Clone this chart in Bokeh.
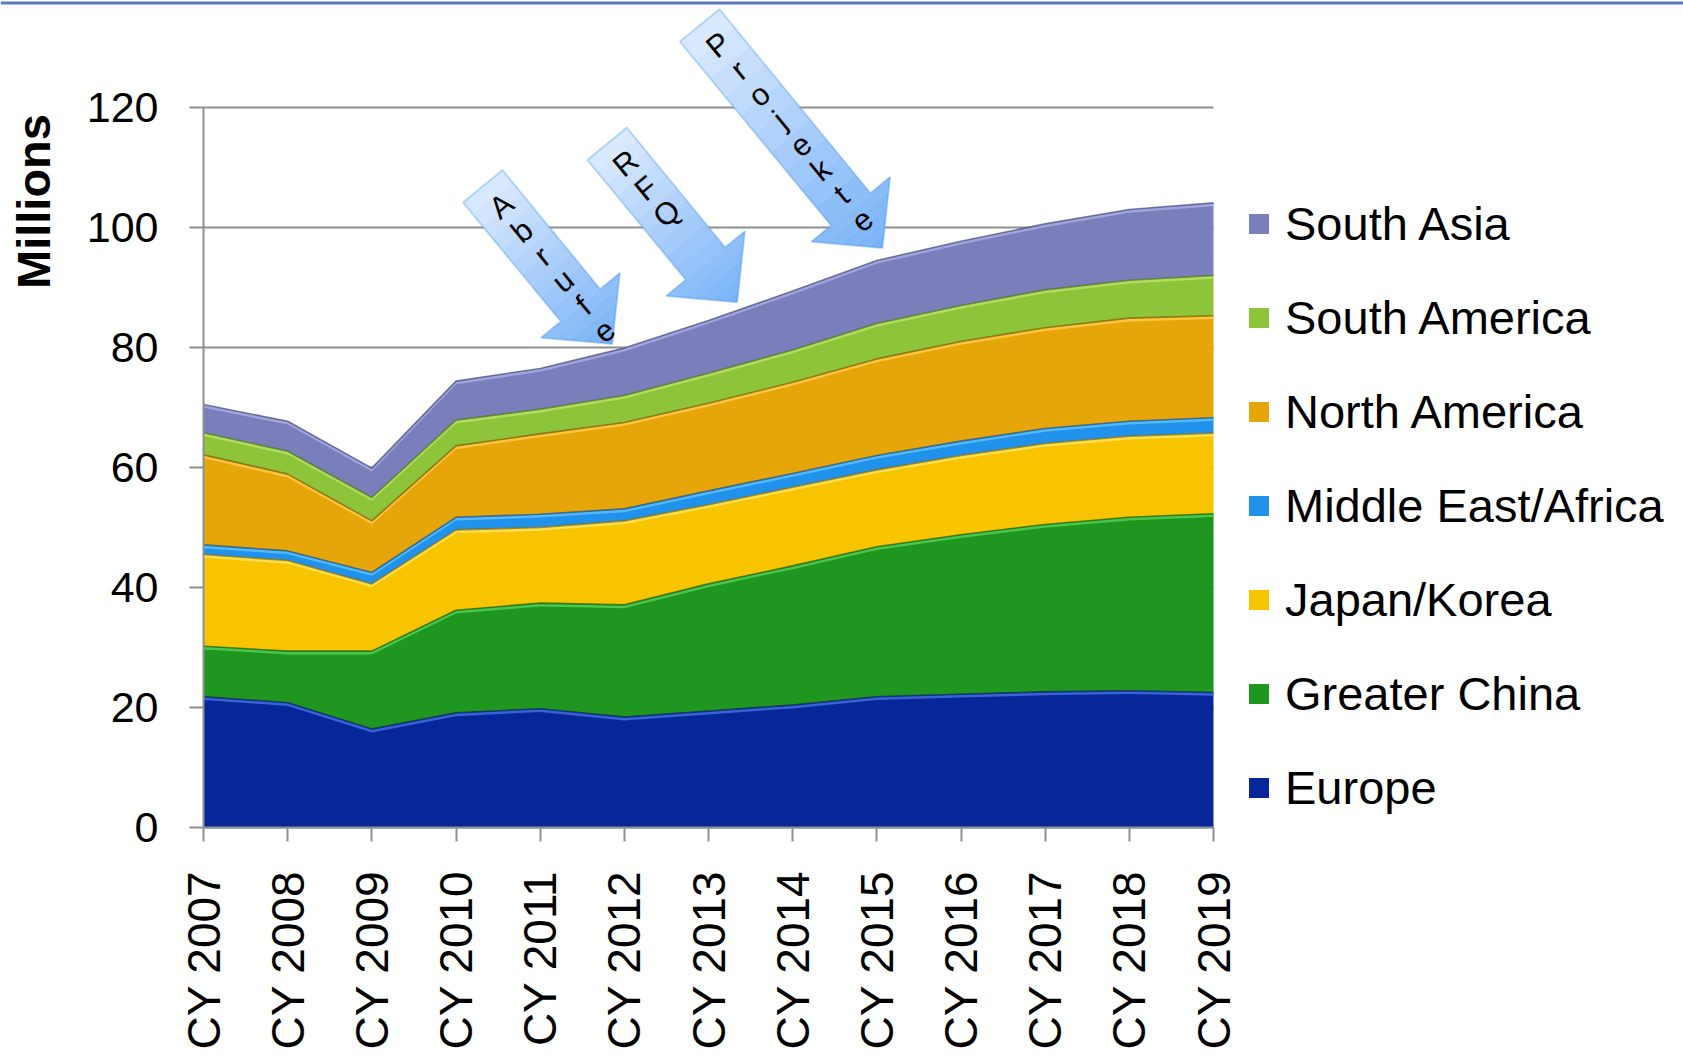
import math
from bokeh.plotting import figure
from bokeh.models import (ColumnDataSource, Range1d, FixedTicker, Legend, LegendItem,
                          PolyAnnotation, Label)
from bokeh.embed import file_html
from bokeh.resources import INLINE

# ---------------- data ----------------
years = [2007, 2008, 2009, 2010, 2011, 2012, 2013, 2014, 2015, 2016, 2017, 2018, 2019]
tick_labels = ["CY 2007", "CY 2008", "CY 2009", "CY 2010", "CY 2011", "CY 2012", "CY 2013",
               "CY 2014", "CY 2015", "CY 2016", "CY 2017", "CY 2018", "CY 2019"]
y_ticks = [0, 20, 40, 60, 80, 100, 120]

europe = [21.8, 20.8, 16.4, 19.1, 19.8, 18.4, 19.4, 20.4, 21.8, 22.2, 22.6, 22.8, 22.5]
greater_china = [8.4, 8.6, 13.0, 17.1, 17.6, 18.7, 21.2, 23.2, 25.0, 26.6, 27.9, 28.9, 29.8]
japan_korea = [15.3, 15.1, 11.2, 13.4, 12.6, 14.0, 13.2, 13.1, 12.8, 13.2, 13.5, 13.5, 13.4]
middle_east_africa = [1.6, 1.6, 1.9, 2.1, 2.2, 2.0, 2.3, 2.3, 2.4, 2.4, 2.5, 2.5, 2.6]
north_america = [15.0, 12.8, 8.6, 11.9, 13.4, 14.4, 14.6, 15.2, 16.1, 16.6, 16.8, 17.2, 17.0]
south_america = [3.7, 3.8, 3.9, 4.3, 4.1, 4.5, 5.0, 5.4, 5.9, 6.0, 6.3, 6.3, 6.7]
south_asia = [4.7, 5.0, 4.9, 6.5, 6.8, 7.9, 8.8, 9.8, 10.5, 10.7, 11.0, 11.8, 12.1]

series_keys = ["europe", "greater_china", "japan_korea", "middle_east_africa",
               "north_america", "south_america", "south_asia"]
series_names = ["Europe", "Greater China", "Japan/Korea", "Middle East/Africa",
                "North America", "South America", "South Asia"]
series_values = [europe, greater_china, japan_korea, middle_east_africa,
                 north_america, south_america, south_asia]

arrow_words = ["Abrufe", "RFQ", "Projekte"]
arrow_tip_x = [2011.856, 2013.341, 2015.067]
arrow_tip_y = [80.6, 87.55, 96.6]
arrow_len_px = [204, 205, 288]

# ---------------- styles ----------------
colors = ["#07269A", "#1E961F", "#F8C400", "#2192EC", "#E6A60A", "#8EC43A", "#7A7FBC"]
highlights = ["#3F6FE0", "#52CF52", "#FFE45C", "#5CC0FF", "#FFCB45", "#B6E266", "#A6AAE0"]
edge_colors = ["#041560", "#0E5A10", "#8A6A00", "#0B4F8C", "#7A5500", "#4C7015", "#474B80"]
GRAY = "#8F8F8F"
FONT = "Liberation Sans"

W, H = 1683, 1056
# plot area (where 2007..2019 and 0..120 live), in page pixels
FL, FT, FW, FH = 203, 107, 1010, 720
X0, X1, Y0, Y1 = 2007, 2019, 0, 120


def px2x(px):
    return X0 + (px - FL) * (X1 - X0) / FW


def py2y(py):
    return Y0 + (FT + FH - py) * (Y1 - Y0) / FH


def x2px(x):
    return FL + (x - X0) * FW / (X1 - X0)


def y2py(y):
    return FT + FH - (y - Y0) * FH / (Y1 - Y0)


# the frame fills the whole canvas; axes are pinned to the plot-area edges
p = figure(width=W, height=H,
           x_range=Range1d(px2x(0), px2x(W)), y_range=Range1d(py2y(H), py2y(0)),
           output_backend="svg", toolbar_location=None,
           min_border=0, min_border_left=0, min_border_right=0,
           min_border_top=0, min_border_bottom=0,
           outline_line_color=None, background_fill_color="white",
           border_fill_color="white")

# horizontal grid lines across the plot area only
p.segment(x0=[X0] * len(y_ticks), x1=[X1] * len(y_ticks), y0=y_ticks, y1=y_ticks,
          line_color=GRAY, line_width=2)

src = ColumnDataSource(dict(year=years, **{k: v for k, v in zip(series_keys, series_values)}))
renderers = p.varea_stack(stackers=series_keys, x="year", color=colors, source=src)

# bevel-like highlight and edges
cum_prev = [0.0] * len(years)
for vals, hl, ec in zip(series_values, highlights, edge_colors):
    cum = [a + b for a, b in zip(cum_prev, vals)]
    lower = [max(c - 0.55, pv) for c, pv in zip(cum, cum_prev)]
    p.varea(x=years, y1=lower, y2=cum, color=hl, alpha=0.85)
    p.line(x=years, y=cum, line_color=ec, line_width=1.6, line_alpha=0.7)
    cum_prev = cum

# axes
p.xaxis.fixed_location = Y0
p.xaxis.bounds = (X0, X1)
p.yaxis.fixed_location = X0
p.yaxis.bounds = (Y0, Y1)
p.xaxis.ticker = FixedTicker(ticks=years)
p.xaxis.major_label_overrides = {y: t for y, t in zip(years, tick_labels)}
p.xaxis.major_label_orientation = math.pi / 2
p.xaxis.major_label_text_font_size = "46px"
p.xaxis.major_label_standoff = 29
p.yaxis.ticker = FixedTicker(ticks=y_ticks)
p.yaxis.major_label_text_font_size = "43px"
p.yaxis.major_label_standoff = 31
for ax in (p.xaxis, p.yaxis):
    ax.major_label_text_font = FONT
    ax.major_label_text_color = "black"
    ax.axis_line_color = GRAY
    ax.axis_line_width = 2
    ax.major_tick_line_color = GRAY
    ax.major_tick_line_width = 2
    ax.major_tick_out = 14
    ax.major_tick_in = 0
    ax.minor_tick_line_color = None
p.xgrid.visible = False
p.ygrid.visible = False

# y axis title placed near the top like the reference
p.add_layout(Label(x=px2x(33), y=py2y(201), text="Millions", angle=math.pi / 2,
                   text_font=FONT, text_font_style="bold", text_font_size="47px",
                   text_align="center", text_baseline="middle", text_color="black"))

# legend (reverse order: South Asia on top)
LEG_ITEM_H, LEG_SP = 60, 34
legend_h = 7 * LEG_ITEM_H + 6 * LEG_SP
legend_top = 223 - LEG_ITEM_H / 2
items = [LegendItem(label=n, renderers=[r]) for n, r in zip(series_names[::-1], renderers[::-1])]
legend = Legend(items=items, location=(1246, H - legend_top - legend_h), orientation="vertical",
                glyph_width=25, glyph_height=25, label_standoff=14,
                label_height=LEG_ITEM_H, spacing=LEG_SP, padding=0, margin=0,
                label_text_font=FONT, label_text_font_size="47px",
                label_text_color="black",
                border_line_color=None, background_fill_alpha=0)
p.add_layout(legend)

# top blue rule
p.add_layout(PolyAnnotation(xs=[px2x(0), px2x(W), px2x(W), px2x(0)],
                            ys=[py2y(1), py2y(1), py2y(4), py2y(4)],
                            fill_color="#5B7BBD", fill_alpha=1, line_color=None))


# block arrows with vertical-letter text
def lerp_color(c0, c1, t):
    a = [int(c0[i:i + 2], 16) for i in (1, 3, 5)]
    b = [int(c1[i:i + 2], 16) for i in (1, 3, 5)]
    return "#%02x%02x%02x" % tuple(int(round(u + (v - u) * t)) for u, v in zip(a, b))


ANG = 50.6
SW, HW, HL = 51, 102, 50
for word, tx, ty, L in zip(arrow_words, arrow_tip_x, arrow_tip_y, arrow_len_px):
    a = math.radians(ANG)
    dx, dy = math.cos(a), math.sin(a)
    nx, ny = math.sin(a), -math.cos(a)
    tsx, tsy = x2px(tx), y2py(ty)
    tail = (tsx - L * dx, tsy - L * dy)

    def pt(s, t):
        sx = tail[0] + s * dx + t * nx
        sy = tail[1] + s * dy + t * ny
        return px2x(sx), py2y(sy)

    n_shaft, n_head = 10, 5
    bounds = [(L - HL) * i / n_shaft for i in range(n_shaft + 1)]
    bounds += [(L - HL) + HL * i / n_head for i in range(1, n_head + 1)]
    for i in range(len(bounds) - 1):
        s0, s1 = bounds[i], bounds[i + 1]
        if i < n_shaft:
            h0 = h1 = SW / 2
        else:
            h0 = HW / 2 * (L - s0) / HL
            h1 = HW / 2 * (L - s1) / HL
        pts = [pt(s0, -h0), pt(s1, -h1), pt(s1, h1), pt(s0, h0)]
        col = lerp_color("#DDEBFD", "#78B2F7", (s0 + s1) / 2 / L)
        p.add_layout(PolyAnnotation(xs=[q[0] for q in pts], ys=[q[1] for q in pts],
                                    fill_color=col, fill_alpha=1,
                                    line_color=col, line_width=1))
    outline = [pt(0, -SW / 2), pt(L - HL, -SW / 2), pt(L - HL, -HW / 2), pt(L, 0),
               pt(L - HL, HW / 2), pt(L - HL, SW / 2), pt(0, SW / 2)]
    p.add_layout(PolyAnnotation(xs=[q[0] for q in outline], ys=[q[1] for q in outline],
                                fill_alpha=0, line_color="#3D8EEB", line_width=2))
    for i, ch in enumerate(word):
        lx, ly = pt(27 + 32.3 * i, 2)
        p.add_layout(Label(x=lx, y=ly, text=ch, angle=math.radians(90 - ANG),
                           text_font=FONT, text_font_size="31px", text_color="black",
                           text_align="center", text_baseline="middle"))

open("out.html", "w").write(file_html(p, INLINE))
